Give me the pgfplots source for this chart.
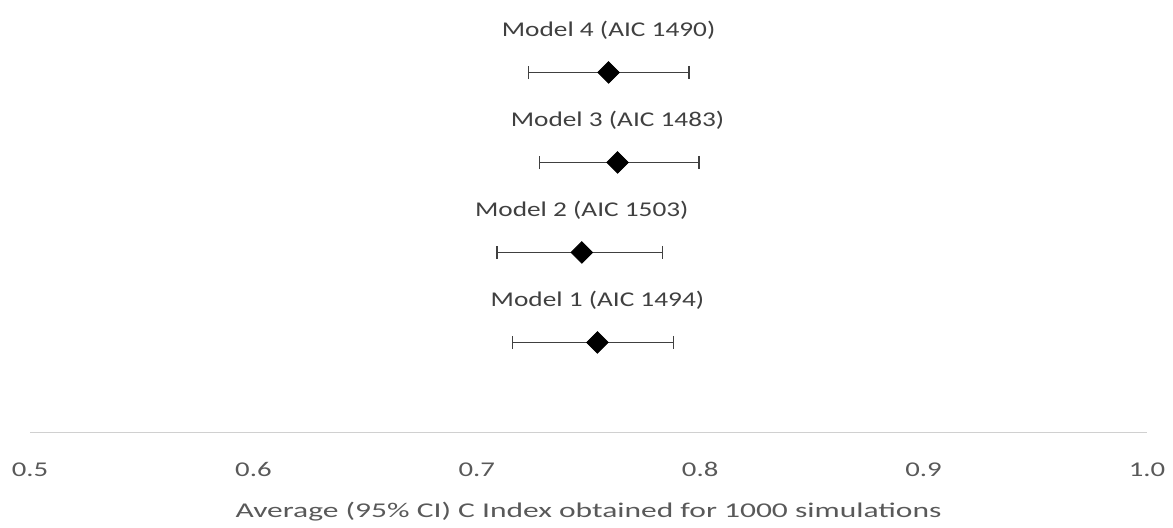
\documentclass[border=0pt]{standalone}
\usepackage{fontspec}
\setmainfont{Carlito}[FakeStretch=1.3]
\newfontfamily\xlabfont{Carlito}[FakeStretch=1.5]
\newfontfamily\tickfont{Carlito}[FakeStretch=1.37]
\usepackage{pgfplots}
\usepackage{pgfplotstable}
\pgfplotsset{compat=1.18}
\definecolor{txtgray}{HTML}{595959}
\definecolor{lblgray}{HTML}{404040}
\definecolor{axgray}{HTML}{D0D0D0}
\definecolor{bargray}{HTML}{404040}
\pgfplotstableread[col sep=comma,row sep=\\]{
x,y,lo,hi,label\\
0.754,1,0.716,0.788,Model 1 (AIC 1494)\\
0.747,2,0.709,0.783,Model 2 (AIC 1503)\\
0.763,3,0.728,0.7995,Model 3 (AIC 1483)\\
0.759,4,0.723,0.795,Model 4 (AIC 1490)\\
}\cidata
\begin{document}
\begin{tikzpicture}[font=\fontsize{10.5}{12}\selectfont]
\useasboundingbox (-15pt,-47.25pt) rectangle (571.5pt,216.25pt);
\begin{axis}[
  at={(0pt,0pt)}, anchor=south west,
  scale only axis, width=558.5pt, height=216.25pt,
  xmin=0.5, xmax=1.0, ymin=0, ymax=4.805,
  clip=false,
  axis y line=none,
  axis x line*=bottom,
  x axis line style={-, draw=axgray, line width=0.8pt},
  xtick={0.5,0.6,0.7,0.8,0.9,1.0},
  major tick length=0pt,
  xticklabel style={text=txtgray, anchor=base, yshift=-22pt, font=\tickfont\fontsize{10.5}{12}\selectfont},
  /pgf/number format/assume math mode=true,
  xticklabel={\pgfmathprintnumber[fixed,fixed zerofill,precision=1]{\tick}},
  xlabel={Average (95\% CI) C Index obtained for 1000 simulations},
  xlabel style={at={(axis description cs:0.5,0)}, anchor=base, yshift=-42.25pt, text=txtgray, font=\xlabfont\fontsize{10.5}{12}\selectfont},
]
\addplot[
  only marks, mark=square*, mark size=3.8pt,
  mark options={rotate=45, fill=black, draw=black},
  point meta=explicit symbolic,
  nodes near coords,
  nodes near coords style={anchor=base, yshift=18pt, text=lblgray, font=\fontsize{10.5}{12}\selectfont},
  error bars/.cd, x dir=both, x explicit,
  error bar style={draw=bargray, line width=0.6pt},
  error mark options={rotate=90, mark size=3.3pt, draw=bargray, line width=0.6pt},
] table[x=x, y=y, meta=label,
  x error plus expr=\thisrow{hi}-\thisrow{x},
  x error minus expr=\thisrow{x}-\thisrow{lo}] {\cidata};
\end{axis}
\end{tikzpicture}
\end{document}
